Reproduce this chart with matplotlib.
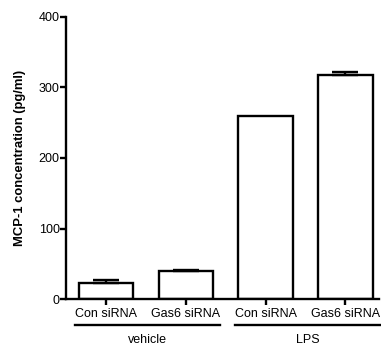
import matplotlib
matplotlib.use("Agg")
import matplotlib.pyplot as plt
import matplotlib.transforms as mtransforms

plt.rcParams['font.family'] = ['Liberation Sans', 'DejaVu Sans']

categories = ["Con siRNA", "Gas6 siRNA", "Con siRNA", "Gas6 siRNA"]
values = [22.5, 40, 259, 318]
errors = [5, 0.8, 0, 4]
groups = ["vehicle", "LPS"]
group_spans = [(-0.39, 1.43), (1.62, 3.43)]
yticks = [0, 100, 200, 300, 400]

fig = plt.figure(figsize=(3.81, 3.49), dpi=100)
ax = fig.add_axes([66/381, 1-299/349, (379-66)/381, (299-17)/349])

lw = 1.7
x = list(range(len(values)))
ax.bar(x, values, width=0.68, color="white", edgecolor="black", linewidth=lw, zorder=2)
ex = [xi for xi, e in zip(x, errors) if e > 0]
ev = [v for v, e in zip(values, errors) if e > 0]
ee = [e for e in errors if e > 0]
ax.errorbar(ex, ev, yerr=[[0]*len(ee), ee], fmt="none", ecolor="black",
            elinewidth=lw, capsize=9.5, capthick=lw, zorder=3)

ax.set_xlim(-0.5, 3.42)
ax.set_ylim(0, 400)
ax.set_yticks(yticks)
ax.set_xticks(x)
ax.set_xticklabels(categories, fontsize=9)
ax.tick_params(axis="y", labelsize=9, length=4, width=lw, pad=0.5)
ax.tick_params(axis="x", length=4, width=lw, pad=2.5)
for s in ["top", "right"]:
    ax.spines[s].set_visible(False)
for s in ["left", "bottom"]:
    ax.spines[s].set_linewidth(lw)

ax.set_ylabel("MCP-1 concentration (pg/ml)", fontsize=9.4, fontweight="bold", labelpad=9)

trans = mtransforms.blended_transform_factory(ax.transData, ax.transAxes)
for g, (a, b) in zip(groups, group_spans):
    ax.plot([a, b], [-0.092, -0.092], color="black", lw=lw, transform=trans, clip_on=False)
    ax.text((a + b) / 2, -0.147, g, transform=trans, ha="center", va="center", fontsize=9)

fig.savefig("out.png", dpi=100)
